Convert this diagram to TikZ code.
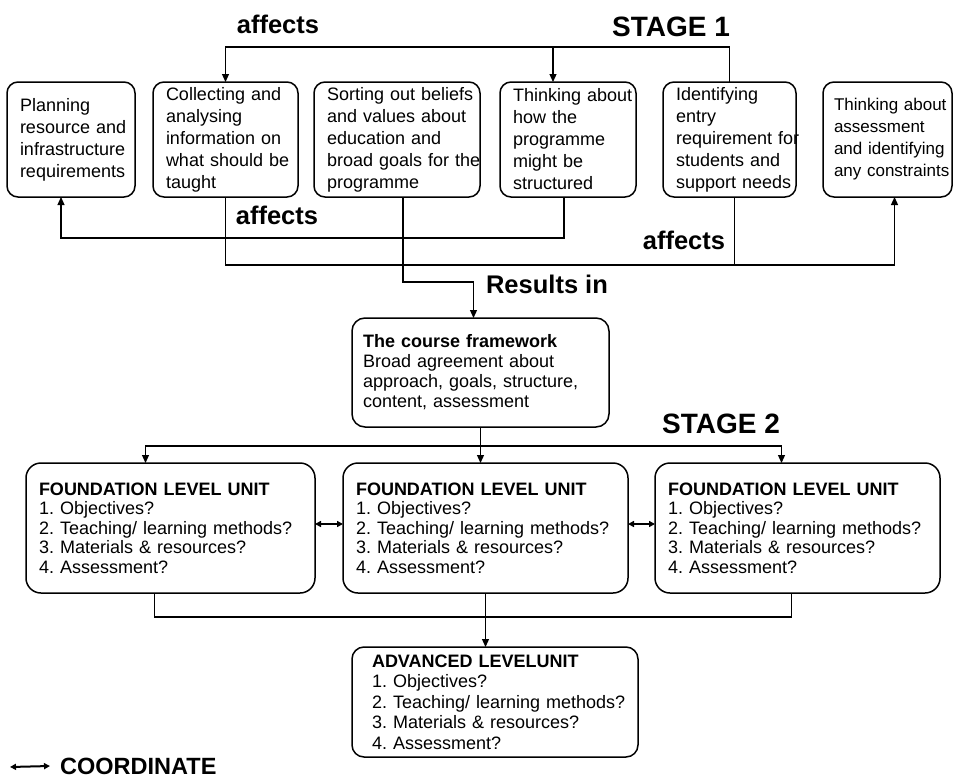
\documentclass[tikz,border=0pt]{standalone}
\usepackage{fontspec}
\setmainfont{Liberation Sans}
\usetikzlibrary{arrows.meta,positioning}
\hyphenpenalty=10000
\exhyphenpenalty=10000
\hfuzz=60pt
\hbadness=10000
\frenchspacing

\tikzset{
  taskbox/.style={draw,line width=1.5pt,rounded corners=11pt,align=left,
    text width=#1,inner xsep=13pt,inner ysep=2pt,minimum height=115pt,outer sep=0pt,
    font=\fontsize{18}{22}\selectfont},
  mainbox/.style={draw,line width=1.5pt,rounded corners=13pt,align=left,
    text width=235pt,inner xsep=11pt,minimum height=109pt,outer sep=0pt,
    font=\fontsize{18}{20}\selectfont},
  unitbox/.style={draw,line width=1.5pt,rounded corners=15pt,align=left,
    text width=#1,inner xsep=13pt,minimum height=130pt,outer sep=0pt,
    font=\fontsize{18}{19.5}\selectfont},
  lbl/.style={font=\bfseries\fontsize{25.5}{28}\selectfont,inner sep=0pt},
  stagelbl/.style={font=\bfseries\fontsize{28}{30}\selectfont,inner sep=0pt},
  conn/.style={line width=1.2pt},
  arr/.style={conn,-{Triangle[length=8pt,width=7pt]}},
  linkarr/.style={line width=2pt,{Triangle[length=6pt,width=6pt]}-{Triangle[length=6pt,width=6pt]}},
}

\begin{document}
\begin{tikzpicture}[x=1pt,y=-1pt]
\useasboundingbox (0,0) rectangle (953,779);

% stage 1 tasks
\node[taskbox=102pt] (plan) at (71,139.5)
  {Planning\\resource~and\\infrastructure\\requirements};
\node[taskbox=119pt,right=18pt of plan] (collect)
  {Collecting~and\\analysing\\information~on\\what~should~be\\taught};
\node[taskbox=140pt,right=16pt of collect] (sort)
  {Sorting~out~beliefs\\and~values~about\\education~and\\broad~goals~for~the\\programme};
\node[taskbox=110pt,right=20pt of sort] (struct)
  {Thinking~about\\how~the\\programme\\might~be\\structured};
\node[taskbox=107pt,right=27pt of struct] (entry)
  {Identifying\\entry\\requirement~for\\students~and\\support~needs};
\node[taskbox=107pt,inner xsep=11pt,right=27pt of entry,
      font=\fontsize{17}{22}\selectfont] (assess)
  {Thinking~about\\assessment\\and~identifying\\any~constraints};

\node[lbl] (aff1) at (278,24) {affects};
\node[stagelbl] (stage1) at (671,27) {STAGE 1};
\node[lbl] (aff2) at (277,215) {affects};
\node[lbl] (aff3) at (684,240) {affects};
\node[lbl] (results) at (547,284) {Results in};

% framework
\node[mainbox] (frame) at (480.5,372.5)
  {\textbf{The course framework}\\Broad agreement about\\approach, goals, structure,\\content, assessment};

% stage 2 units
\node[stagelbl] (stage2) at (721,424) {STAGE 2};
\node[unitbox=263pt] (fb1) at (170.5,528)
  {\textbf{FOUNDATION LEVEL UNIT}\\1. Objectives?\\2. Teaching/ learning methods?\\3. Materials \& resources?\\4. Assessment?};
\node[unitbox=259pt,right=28pt of fb1] (fb2)
  {\textbf{FOUNDATION LEVEL UNIT}\\1. Objectives?\\2. Teaching/ learning methods?\\3. Materials \& resources?\\4. Assessment?};
\node[unitbox=259pt,right=27pt of fb2] (fb3)
  {\textbf{FOUNDATION LEVEL UNIT}\\1. Objectives?\\2. Teaching/ learning methods?\\3. Materials \& resources?\\4. Assessment?};
\node[unitbox=246pt,inner xsep=20pt,minimum height=110pt,rounded corners=12pt,
      font=\fontsize{18}{20.5}\selectfont] (adv) at (495,702)
  {\textbf{ADVANCED LEVELUNIT}\\1. Objectives?\\2.~Teaching/~learning~methods?\\3. Materials \& resources?\\4. Assessment?};

% legend
\coordinate (legtail) at (10,767);
\node[font=\bfseries\fontsize{23.5}{26}\selectfont,inner xsep=10pt,inner ysep=0pt,anchor=west]
  (legend) at (50,766) {COORDINATE};

% connectors
\coordinate (topln) at (0,47);
\coordinate (s4top) at ([xshift=-15pt]struct.north);
\draw[arr] (entry.north) -- ++(0,-35) -| (collect.north);
\draw[arr] (s4top |- topln) -- (s4top);
\draw[arr] ([xshift=-4pt]struct.south) -- ++(0,41) -| ([xshift=-10pt]plan.south);
\draw[arr] (collect.south) -- ++(0,68) -| ([xshift=7pt]assess.south);
\draw[conn] ([xshift=5pt]entry.south) -- ++(0,68);
\draw[arr] ([xshift=6pt]sort.south) -- ++(0,85) -| ([xshift=-7pt]frame.north);

\draw[arr] (frame.south) -- (frame.south |- fb2.north);
\path (frame.south) -- ++(0,19) coordinate (split);
\draw[arr] (split) -| ([xshift=-25pt]fb1.north);
\draw[arr] (split) -| ([xshift=-16pt]fb3.north);
\draw[linkarr] ([yshift=4pt]fb1.east) -- ([yshift=4pt]fb2.west);
\draw[linkarr] ([yshift=4pt]fb2.east) -- ([yshift=4pt]fb3.west);

\draw[conn] ([xshift=-16pt]fb1.south) -- ++(0,24) -| ([xshift=-6pt]fb3.south);
\draw[arr] (fb2.south) -- (fb2.south |- adv.north);
\draw[linkarr] (legtail) -- (legend.west);
\end{tikzpicture}
\end{document}
